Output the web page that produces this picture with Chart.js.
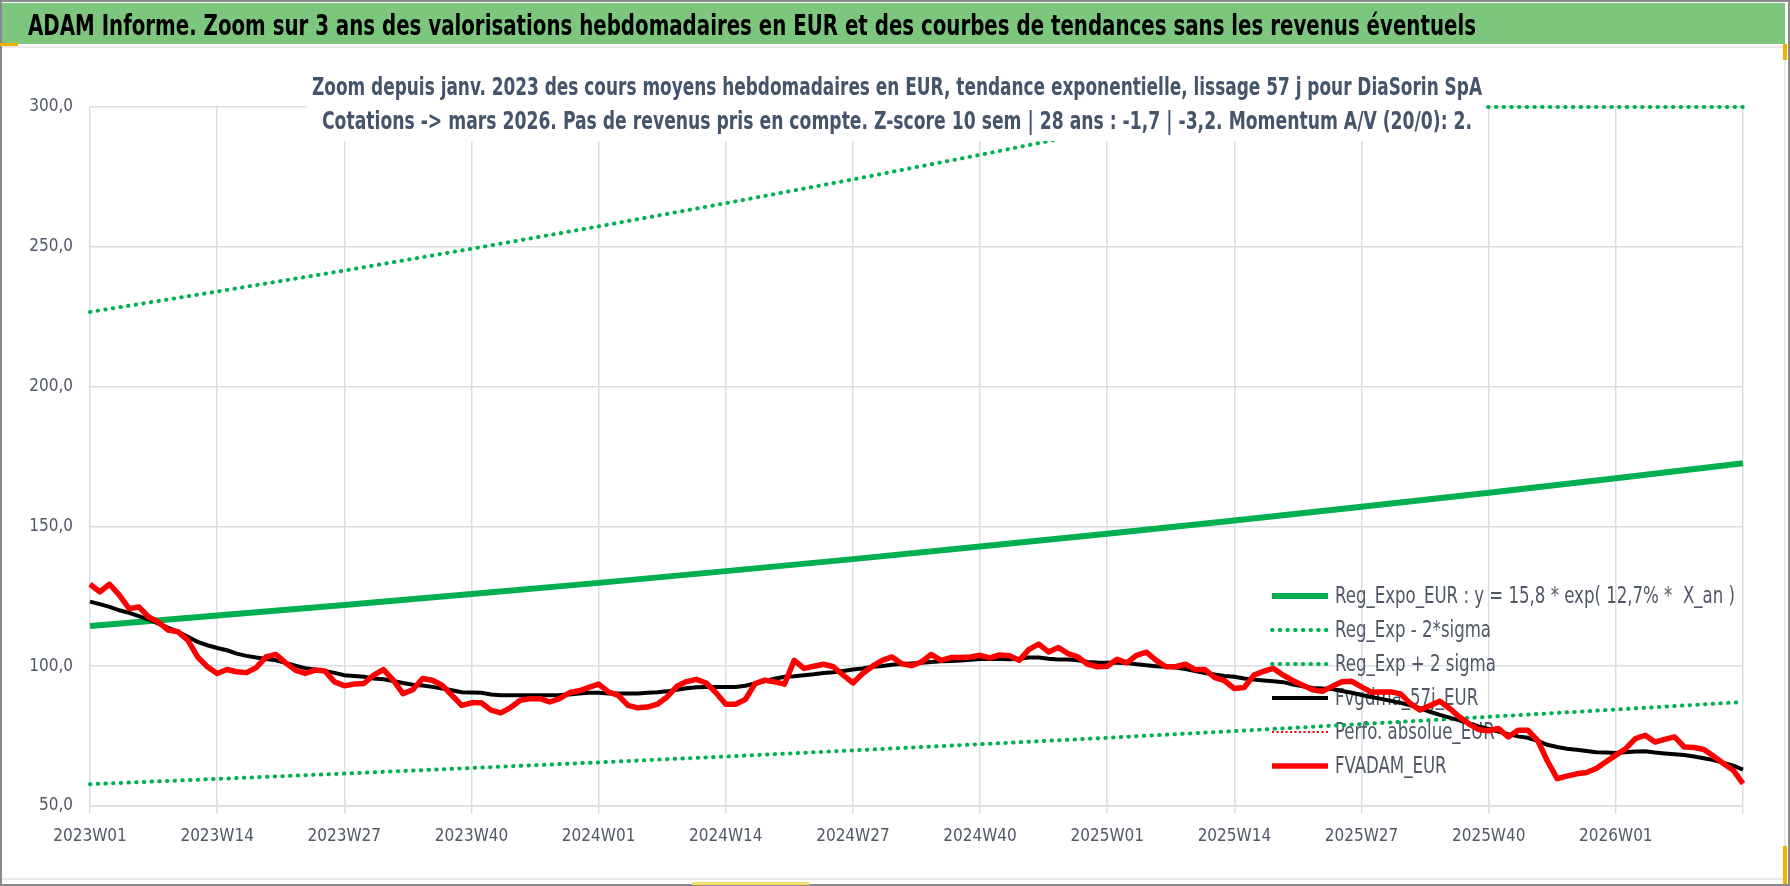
<!DOCTYPE html>
<html lang="fr">
<head>
<meta charset="utf-8">
<title>ADAM Informe - DiaSorin SpA</title>
<script src="https://cdn.jsdelivr.net/npm/chart.js@4.4.1/dist/chart.umd.min.js"></script>
<style>
  html, body { margin: 0; padding: 0; background: #fff; }
  #wrap { width: 1790px; height: 886px; position: relative; }
</style>
</head>
<body>
<div id="wrap"><canvas id="adam"></canvas></div>
<script>
// weekly categories, 2023W01 -> 2026W14
var weekYears = [2023, 2024, 2025, 2026];
var weeksInYear = [52, 52, 52, 14];
var weekLabels = [];
weekYears.forEach(function(y, k) {
  for (var w = 1; w <= weeksInYear[k]; w++) {
    weekLabels.push(y + 'W' + (w < 10 ? '0' + w : w));
  }
});

var tickLabels = ['2023W01', '2023W14', '2023W27', '2023W40', '2024W01', '2024W14', '2024W27',
                  '2024W40', '2025W01', '2025W14', '2025W27', '2025W40', '2026W01'];
var gridWeeks = tickLabels.concat(['2026W14']);

// trend lines, read every 13 weeks
var trendWeeks = ['2023W01', '2023W14', '2023W27', '2023W40', '2024W01', '2024W14', '2024W27',
                  '2024W40', '2025W01', '2025W14', '2025W27', '2025W40', '2026W01', '2026W14'];
var regExpo = [114.4, 118.1, 121.9, 125.8, 129.8, 134.0, 138.3, 142.8, 147.4, 152.1, 157.0, 162.0, 167.2, 172.6];
var regMinus = [57.8, 59.7, 61.6, 63.6, 65.6, 67.7, 69.9, 72.1, 74.4, 76.8, 79.3, 81.9, 84.5, 87.2];
var plusWeeks = ['2023W01', '2023W14', '2023W27', '2023W40', '2024W01', '2024W14', '2024W27',
                 '2024W40', '2025W01', '2025W12', '2026W14'];
var regPlus = [226.7, 234.0, 241.5, 249.3, 257.3, 265.6, 274.1, 282.9, 292.0, 300.0, 300.0];

// Fvgdma_57j_EUR, weekly
var fvgdma = [
  123.1, 122.2, 121.2, 120.0, 119.1, 117.9, 116.7, 115.2, 113.7, 112.3,
  110.5, 108.7, 107.5, 106.5, 105.7, 104.5, 103.7, 103.1, 102.6, 102.1,
  101.2, 100.2, 99.3, 98.8, 98.3, 97.6, 96.8, 96.5, 96.2, 95.6,
  95.3, 94.7, 94.0, 93.4, 93.1, 92.6, 92.0, 91.4, 90.7, 90.6,
  90.5, 89.9, 89.6, 89.6, 89.6, 89.6, 89.6, 89.6, 89.7, 89.9,
  90.2, 90.5, 90.5, 90.2, 90.2, 90.2, 90.2, 90.5, 90.7, 91.0,
  91.6, 92.1, 92.5, 92.6, 92.6, 92.6, 92.6, 93.0, 93.8, 94.7,
  95.5, 96.2, 96.4, 96.8, 97.1, 97.6, 97.8, 98.3, 98.8, 99.2,
  99.8, 100.1, 100.5, 100.8, 101.0, 101.2, 101.5, 101.8, 101.9, 102.0,
  102.3, 102.6, 102.6, 102.6, 102.5, 102.7, 103.1, 103.1, 102.7, 102.4,
  102.4, 102.1, 101.5, 101.3, 101.2, 101.2, 101.1, 100.7, 100.3, 100.0,
  99.8, 99.5, 99.0, 98.3, 97.6, 97.0, 96.5, 96.2, 95.6, 95.2,
  94.9, 94.6, 94.3, 93.4, 92.8, 92.2, 92.0, 91.8, 91.1, 90.5,
  89.7, 89.0, 88.3, 87.6, 86.9, 86.0, 84.9, 83.7, 82.6, 81.6,
  80.6, 79.5, 78.5, 77.6, 76.6, 75.7, 74.9, 74.4, 73.3, 71.9,
  71.1, 70.5, 70.1, 69.7, 69.2, 69.1, 69.0, 69.2, 69.5, 69.6,
  69.1, 68.8, 68.5, 68.2, 67.7, 67.1, 66.4, 65.4, 64.4, 63.0
];

// FVADAM_EUR, weekly
var fvadam = [
  129.3, 126.6, 129.3, 125.4, 120.6, 121.2, 117.6, 115.8, 112.9, 112.3,
  109.3, 103.3, 99.8, 97.4, 98.8, 98.0, 97.7, 99.5, 103.3, 104.2,
  101.2, 98.6, 97.4, 98.6, 98.3, 94.4, 93.0, 93.6, 93.8, 96.8,
  98.8, 95.0, 90.2, 91.6, 95.6, 95.0, 93.2, 89.6, 86.0, 86.9,
  86.9, 84.3, 83.3, 85.2, 87.8, 88.4, 88.4, 87.2, 88.4, 90.5,
  91.2, 92.4, 93.6, 90.8, 89.6, 86.0, 85.1, 85.4, 86.4, 89.0,
  92.8, 94.5, 95.3, 94.0, 90.5, 86.4, 86.4, 88.1, 93.8, 95.0,
  94.4, 93.6, 102.1, 99.2, 100.0, 100.7, 99.8, 96.8, 94.0, 97.4,
  100.0, 102.1, 103.3, 100.9, 100.2, 101.5, 104.2, 102.1, 103.1, 103.1,
  103.3, 103.9, 103.0, 104.0, 103.7, 102.1, 106.0, 107.9, 105.1, 106.7,
  104.5, 103.3, 100.7, 99.8, 100.0, 102.5, 101.2, 103.9, 105.0, 102.1,
  99.8, 99.8, 100.7, 98.8, 98.8, 95.9, 94.8, 92.0, 92.4, 96.8,
  98.2, 99.2, 96.8, 94.8, 93.2, 91.6, 91.0, 92.8, 94.4, 94.6,
  92.6, 90.7, 90.8, 90.8, 90.1, 86.6, 84.3, 85.9, 87.5, 84.9,
  81.9, 79.3, 77.3, 76.9, 77.7, 74.7, 77.1, 77.1, 73.5, 66.1,
  59.8, 60.7, 61.5, 62.0, 63.4, 65.8, 68.2, 70.5, 74.1, 75.3,
  72.9, 73.8, 74.7, 71.1, 70.9, 70.2, 67.8, 65.2, 62.8, 58.0
];

var perfoAbsolue = []; // nothing visible in the 50-300 window

var titleText = 'ADAM Informe. Zoom sur 3 ans des valorisations hebdomadaires en EUR et des courbes de tendances sans les revenus éventuels';
var subtitleLines = [
  'Zoom depuis janv. 2023 des cours moyens hebdomadaires en EUR, tendance exponentielle, lissage 57 j pour DiaSorin SpA',
  'Cotations -> mars 2026. Pas de revenus pris en compte. Z-score 10 sem | 28 ans : -1,7 | -3,2. Momentum A/V (20/0): 2.'
];

var FONT = '"Liberation Sans Narrow", "DejaVu Sans Condensed", "Arial Narrow", sans-serif';
var GREEN = '#00b050';
var GRID = '#dadde2';
var TEXT = '#505866';

function pairs(xs, ys) {
  return xs.map(function(x, i) { return {x: x, y: ys[i]}; });
}

// draw a text squeezed horizontally to a given width (narrow face look)
function squeezeText(ctx, text, x, y, font, width, align) {
  ctx.font = font;
  var s = width / ctx.measureText(text).width;
  ctx.save();
  ctx.translate(x, y);
  ctx.scale(s, 1);
  ctx.textAlign = align;
  ctx.fillText(text, 0, 0);
  ctx.restore();
}

// page frame, green title band
var framePlugin = {
  id: 'frame',
  beforeDraw: function(chart) {
    var ctx = chart.ctx;
    ctx.save();
    ctx.fillStyle = '#fff';
    ctx.fillRect(0, 0, chart.width, chart.height);
    ctx.fillStyle = '#7dc67d';
    ctx.fillRect(2, 3, 1783, 41);
    ctx.strokeStyle = '#e2e2e2';
    ctx.lineWidth = 1.5;
    ctx.beginPath();
    ctx.moveTo(2, 47); ctx.lineTo(1785, 47);
    ctx.moveTo(1785, 47); ctx.lineTo(1785, 879);
    ctx.moveTo(2, 879); ctx.lineTo(1785, 879);
    ctx.stroke();
    ctx.strokeStyle = '#8a8a8a';
    ctx.lineWidth = 2;
    ctx.strokeRect(1, 1, chart.width - 2, chart.height - 2);
    ctx.fillStyle = '#f0b400';
    ctx.fillRect(0, 43, 18, 3);
    ctx.fillRect(1783, 44, 4, 16);
    ctx.fillRect(1783, 846, 4, 38);
    ctx.fillStyle = '#f5e36e';
    ctx.fillRect(692, 882, 117, 3);

    ctx.fillStyle = '#000';
    ctx.textBaseline = 'alphabetic';
    squeezeText(ctx, titleText, 28, 35, 'bold 28px ' + FONT, 1448, 'left');
    ctx.restore();
  }
};

// legend inside the plot, bottom right
var legendPlugin = {
  id: 'plotLegend',
  beforeDatasetsDraw: function(chart) {
    var ctx = chart.ctx;
    var top = 596, step = 34;
    var font = '23px ' + FONT;
    ctx.save();
    ctx.font = font;
    var sx = 400 / ctx.measureText(chart.data.datasets[0].label).width;
    ctx.textBaseline = 'middle';
    chart.data.datasets.forEach(function(ds, k) {
      var y = top + k * step;
      ctx.beginPath();
      ctx.strokeStyle = ds.borderColor;
      ctx.lineWidth = ds.borderWidth;
      ctx.lineCap = ds.borderCapStyle || 'butt';
      ctx.setLineDash(ds.borderDash || []);
      ctx.moveTo(1272, y);
      ctx.lineTo(1328, y);
      ctx.stroke();
      ctx.setLineDash([]);
      ctx.fillStyle = TEXT;
      ctx.font = font;
      var w = ctx.measureText(ds.label).width * sx;
      squeezeText(ctx, ds.label, 1335, y + 1, font, w, 'left');
    });
    ctx.restore();
  }
};

// two-line subtitle on a white box over the top of the plot
var subtitlePlugin = {
  id: 'subtitle',
  afterDatasetsDraw: function(chart) {
    var ctx = chart.ctx;
    ctx.save();
    ctx.fillStyle = '#fff';
    ctx.fillRect(307, 60, 1176, 81);
    ctx.fillStyle = '#44546a';
    ctx.textBaseline = 'alphabetic';
    var widths = [1170, 1150];
    var baselines = [95, 129];
    subtitleLines.forEach(function(line, k) {
      squeezeText(ctx, line, 897, baselines[k], 'bold 25px ' + FONT, widths[k], 'center');
    });
    ctx.restore();
  }
};

function gridColor(c) {
  return gridWeeks.indexOf(weekLabels[c.index]) >= 0 ? GRID : 'rgba(0,0,0,0)';
}

Chart.defaults.font.family = FONT;

var chart = new Chart('adam', {
  type: 'line',
  data: {
    labels: weekLabels,
    datasets: [
      {
        label: 'Reg_Expo_EUR : y = 15,8 * exp( 12,7% *  X_an )',
        data: pairs(trendWeeks, regExpo),
        borderColor: GREEN,
        borderWidth: 6,
        order: 2
      },
      {
        label: 'Reg_Exp - 2*sigma',
        data: pairs(trendWeeks, regMinus),
        borderColor: GREEN,
        borderWidth: 4,
        borderDash: [0.5, 7.2],
        borderCapStyle: 'round',
        order: 3
      },
      {
        label: 'Reg_Exp + 2 sigma',
        data: pairs(plusWeeks, regPlus),
        borderColor: GREEN,
        borderWidth: 4,
        borderDash: [0.5, 7.2],
        borderCapStyle: 'round',
        order: 3
      },
      {
        label: 'Fvgdma_57j_EUR',
        data: fvgdma,
        borderColor: '#000',
        borderWidth: 4,
        order: 1
      },
      {
        label: 'Perfo. absolue_EUR',
        data: perfoAbsolue,
        borderColor: '#ff0000',
        borderWidth: 2,
        borderDash: [2, 2.5],
        order: 1
      },
      {
        label: 'FVADAM_EUR',
        data: fvadam,
        borderColor: '#ff0000',
        borderWidth: 5.5,
        borderJoinStyle: 'round',
        order: 0
      }
    ]
  },
  options: {
    responsive: true,
    maintainAspectRatio: false,
    animation: false,
    devicePixelRatio: 1,
    clip: false,
    layout: { padding: { left: 0, top: 107, right: 47, bottom: 0 } },
    elements: {
      point: { radius: 0, hoverRadius: 0 },
      line: { tension: 0, fill: false }
    },
    plugins: {
      legend: { display: false },
      title: { display: false },
      tooltip: { enabled: false }
    },
    scales: {
      x: {
        offset: false,
        afterFit: function(scale) { scale.height = 80; },
        grid: {
          color: gridColor,
          tickColor: gridColor,
          lineWidth: 1.5,
          tickLength: 8,
          offset: false
        },
        border: { display: true, color: GRID, width: 1.5 },
        ticks: {
          autoSkip: false,
          maxRotation: 0,
          minRotation: 0,
          padding: 12,
          color: TEXT,
          font: { size: 17 },
          callback: function(value) {
            var lab = this.getLabelForValue(value);
            return tickLabels.indexOf(lab) >= 0 ? lab : '';
          }
        }
      },
      y: {
        min: 50,
        max: 300,
        afterFit: function(scale) { scale.width = 90; },
        grid: { color: GRID, lineWidth: 1.5, drawTicks: false },
        border: { display: false },
        ticks: {
          stepSize: 50,
          padding: 17,
          color: TEXT,
          font: { size: 17 },
          callback: function(v) { return v.toFixed(1).replace('.', ','); }
        }
      }
    }
  },
  plugins: [framePlugin, legendPlugin, subtitlePlugin]
});
</script>
</body>
</html>
